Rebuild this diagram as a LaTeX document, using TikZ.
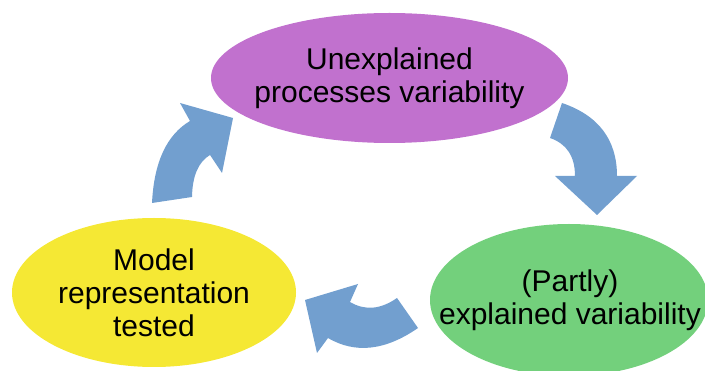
\documentclass[tikz,border=0pt]{standalone}
\usepackage{fontspec}
\setmainfont{Liberation Sans}
\usetikzlibrary{shapes.geometric}
\definecolor{cpurple}{HTML}{C171CE}
\definecolor{cyellow}{HTML}{F5E834}
\definecolor{cgreen}{HTML}{73D07C}
\definecolor{cblue}{HTML}{729FCF}
\tikzset{
  blob/.style={ellipse, inner sep=0pt, draw=none},
  txt/.style={align=center, inner sep=0pt, font=\fontsize{30}{33}\selectfont, text=black},
  bluearrow/.style={fill=cblue, draw=none}
}
\begin{document}
\begin{tikzpicture}[x=1pt,y=-1pt]
\useasboundingbox (0,0) rectangle (705,371);
\clip (0,0) rectangle (705,371);
% ellipses
\node[blob, fill=cpurple, minimum width=357pt, minimum height=130pt] (top) at (389.5,78) {};
\node[txt] (toptxt) at (top.center) {Unexplained\\processes variability};
\node[blob, fill=cyellow, minimum width=284pt, minimum height=149pt] (left) at (154,292.5) {};
\node[txt] (lefttxt) at (left.center) {Model\\representation\\tested};
\node[blob, fill=cgreen, minimum width=278pt, minimum height=152pt] (right) at (569,300) {};
\node[txt] (righttxt) at ([xshift=1pt]right.center) {(Partly)\\explained variability};
% curved block arrow, left (upward)
\fill[bluearrow] (152,203) .. controls (154,162.1) and (166.7,134.8) .. (190,121)
  -- (180,103) -- (233,118) -- (222,173) -- (210,155)
  .. controls (198.4,161.9) and (192.4,175.9) .. (192,197) -- cycle;
% curved block arrow, right (downward)
\fill[bluearrow] (562,103) .. controls (598.7,115.5) and (617,139.9) .. (617,176)
  -- (637,176) -- (597,215) -- (555,176) -- (575,176)
  .. controls (575,156.4) and (566.7,143.7) .. (550,138) -- cycle;
% curved block arrow, bottom (leftward)
\fill[bluearrow] (418,328) .. controls (385.2,350.7) and (355.2,354) .. (328,338)
  -- (317,353) -- (305,300) -- (358,284) -- (350,302)
  .. controls (364.9,310.8) and (380.5,309.5) .. (397,298) -- cycle;
\end{tikzpicture}
\end{document}
